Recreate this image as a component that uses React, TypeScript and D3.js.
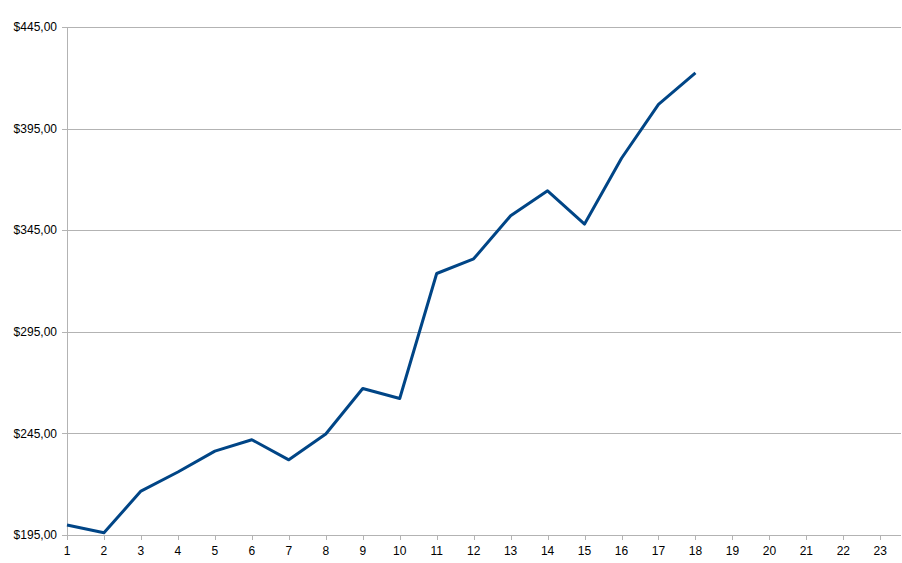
import * as d3 from "d3";

// categories 1..23, values only for the first 18
const categories = d3.range(1, 24).map(String);
const values = [
  199.9, 196.1, 216.6, 226, 236.3, 241.9, 232, 244.7, 267.1, 262.2, 323.7,
  330.9, 352.1, 364.4, 348, 380.4, 406.9, 422.4,
];
const yTicks = [195, 245, 295, 345, 395, 445];

const width = 902;
const height = 563;
const margin = { top: 27, right: 1, bottom: 28, left: 67 };

const fmt = (v: number) => "$" + v.toFixed(2).replace(".", ",");

export default function App() {
  const x = d3
    .scalePoint<string>()
    .domain(categories)
    .range([margin.left, 880.3]);
  const y = d3
    .scaleLinear()
    .domain([195, 445])
    .range([height - margin.bottom, margin.top]);

  const line = d3
    .line<number>()
    .x((_, i) => x(categories[i])!)
    .y((d) => y(d));

  const axisColor = "#b3b3b3";
  const plotRight = width - margin.right;

  return (
    <div style={{ position: "absolute", left: 0, top: 0 }}>
      <svg
        width={width}
        height={height}
        style={{ display: "block", fontFamily: "'Liberation Sans', Arial, sans-serif" }}
      >
        <rect width={width} height={height} fill="#fff" />
        {yTicks.map((t) => (
          <g key={t}>
            <line
              x1={margin.left - 5}
              x2={plotRight}
              y1={Math.round(y(t)) + 0.5}
              y2={Math.round(y(t)) + 0.5}
              stroke={axisColor}
            />
            <text
              x={margin.left - 10}
              y={y(t)}
              dy="0.35em"
              textAnchor="end"
              fontSize={12}
              fill="#000"
            >
              {fmt(t)}
            </text>
          </g>
        ))}
        <line
          x1={margin.left + 0.5}
          x2={margin.left + 0.5}
          y1={margin.top}
          y2={height - margin.bottom}
          stroke={axisColor}
        />
        {categories.map((c) => (
          <g key={c}>
            <line
              x1={Math.round(x(c)!) + 0.5}
              x2={Math.round(x(c)!) + 0.5}
              y1={height - margin.bottom}
              y2={height - margin.bottom + 5}
              stroke={axisColor}
            />
            <text
              x={x(c)}
              y={height - margin.bottom + 20}
              textAnchor="middle"
              fontSize={12}
              fill="#000"
            >
              {c}
            </text>
          </g>
        ))}
        <path
          d={line(values) ?? ""}
          fill="none"
          stroke="#004586"
          strokeWidth={3}
          strokeLinejoin="round"
        />
      </svg>
    </div>
  );
}
